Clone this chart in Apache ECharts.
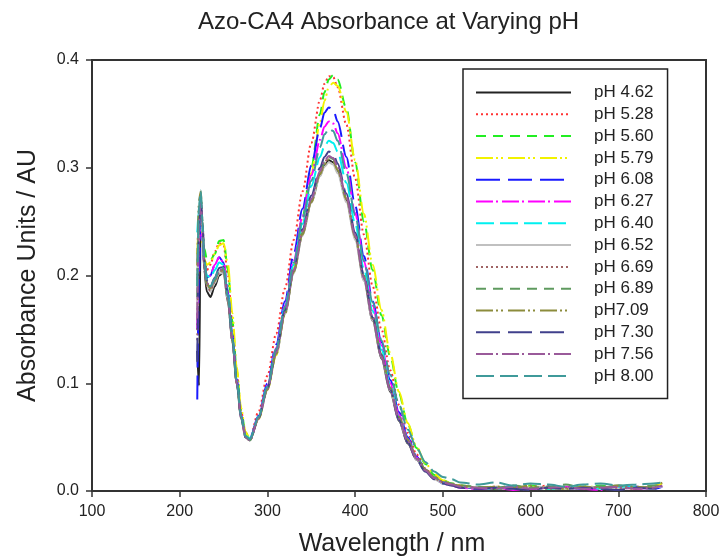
<!DOCTYPE html>
<html>
<head>
<meta charset="utf-8">
<script src="https://cdn.jsdelivr.net/npm/echarts@6/dist/echarts.min.js"></script>
<style>
  html, body { margin: 0; padding: 0; background: #fff; }
  #chart { width: 722px; height: 556px; }
</style>
</head>
<body>
<div id="chart"></div>
<script>
// wavelength grid (nm)
const wavelengths = [220,222,224,226,228,231,235,240,245,250,255,260,265,270,275,280,290,300,310,320,330,340,350,360,365,370,375,380,390,400,410,420,430,440,450,460,470,480,490,500,510,520,540,560,580,600,620,640,660,680,700,720,740,750];

const phLabels = ['pH 4.62','pH 5.28','pH 5.60','pH 5.79','pH 6.08','pH 6.27','pH 6.40','pH 6.52','pH 6.69','pH 6.89','pH7.09','pH 7.30','pH 7.56','pH 8.00'];

// absorbance, one list per pH
const abs_462 = [0.13,0.098,0.26,0.24,0.205,0.185,0.18,0.19,0.2,0.203,0.175,0.14,0.1,0.07,0.052,
  0.047,0.068,0.095,0.128,0.165,0.203,0.238,0.268,0.293,0.302,0.307,0.305,0.297,0.27,0.235,0.196,0.158,0.123,0.092,0.065,0.044,0.029,0.019,0.012,0.008,
  0.006,0.004,0.003,0.002,0.004,0.002,0.003,0.002,0.004,0.003,0.002,0.004,0.003,0.005];
const abs_528 = [0.2,0.25,0.26,0.235,0.215,0.205,0.21,0.222,0.23,0.228,0.2,0.155,0.11,0.074,0.054,
  0.049,0.074,0.107,0.146,0.188,0.233,0.278,0.323,0.363,0.378,0.385,0.384,0.375,0.34,0.29,0.238,0.19,0.15,0.112,0.08,0.054,0.034,0.021,0.013,0.009,
  0.006,0.005,0.002,0.004,0.002,0.003,0.005,0.002,0.003,0.002,0.004,0.003,0.004,0.004];
const abs_560 = [0.19,0.24,0.255,0.24,0.225,0.215,0.214,0.22,0.232,0.233,0.205,0.158,0.112,0.075,0.054,
  0.048,0.068,0.095,0.128,0.168,0.21,0.255,0.3,0.35,0.37,0.382,0.386,0.382,0.355,0.305,0.25,0.205,0.163,0.125,0.09,0.062,0.04,0.025,0.015,0.01,
  0.007,0.005,0.004,0.002,0.003,0.005,0.002,0.004,0.003,0.005,0.002,0.003,0.004,0.006];
const abs_579 = [0.22,0.25,0.245,0.23,0.215,0.21,0.212,0.22,0.228,0.23,0.21,0.165,0.115,0.077,0.055,
  0.048,0.067,0.094,0.126,0.165,0.207,0.25,0.295,0.342,0.362,0.375,0.379,0.376,0.352,0.307,0.257,0.21,0.168,0.128,0.092,0.063,0.041,0.026,0.016,0.01,
  0.007,0.005,0.003,0.004,0.002,0.004,0.003,0.002,0.005,0.003,0.004,0.002,0.005,0.007];
const abs_608 = [0.085,0.2,0.25,0.235,0.21,0.198,0.2,0.21,0.217,0.212,0.185,0.145,0.104,0.07,0.052,
  0.049,0.07,0.1,0.136,0.176,0.22,0.262,0.302,0.337,0.351,0.356,0.354,0.343,0.31,0.265,0.218,0.176,0.138,0.103,0.073,0.05,0.032,0.02,0.012,0.008,
  0.006,0.004,0.002,0.003,0.004,0.002,0.004,0.003,0.002,0.004,0.003,0.004,0.002,0.004];
const abs_627 = [0.15,0.23,0.255,0.235,0.21,0.199,0.2,0.21,0.217,0.212,0.183,0.143,0.102,0.069,0.051,
  0.048,0.069,0.098,0.133,0.172,0.214,0.255,0.293,0.326,0.338,0.343,0.341,0.332,0.3,0.258,0.213,0.172,0.135,0.1,0.071,0.048,0.031,0.019,0.012,0.007,
  0.005,0.003,0.002,0.003,0.001,0.002,0.003,0.004,0.002,0.001,0.003,0.002,0.003,0.005];
const abs_640 = [0.24,0.26,0.255,0.235,0.212,0.2,0.198,0.205,0.212,0.21,0.183,0.143,0.102,0.069,0.051,
  0.049,0.069,0.097,0.131,0.17,0.21,0.248,0.283,0.31,0.32,0.325,0.323,0.315,0.286,0.248,0.206,0.167,0.131,0.098,0.069,0.047,0.03,0.019,0.012,0.007,
  0.006,0.004,0.003,0.002,0.004,0.003,0.002,0.003,0.004,0.002,0.003,0.004,0.003,0.005];
const abs_652 = [0.17,0.25,0.265,0.24,0.21,0.19,0.185,0.193,0.202,0.202,0.175,0.138,0.099,0.067,0.05,
  0.047,0.067,0.094,0.127,0.164,0.202,0.237,0.267,0.292,0.301,0.305,0.303,0.295,0.268,0.233,0.195,0.158,0.124,0.093,0.066,0.045,0.029,0.018,0.011,0.007,
  0.005,0.004,0.003,0.004,0.002,0.003,0.004,0.002,0.003,0.004,0.002,0.003,0.004,0.004];
const abs_669 = [0.14,0.24,0.27,0.245,0.21,0.19,0.186,0.194,0.203,0.205,0.177,0.139,0.1,0.068,0.05,
  0.047,0.068,0.096,0.129,0.166,0.205,0.24,0.27,0.295,0.305,0.31,0.308,0.3,0.272,0.237,0.198,0.16,0.125,0.094,0.067,0.046,0.03,0.019,0.012,0.008,
  0.006,0.004,0.003,0.002,0.003,0.004,0.002,0.003,0.002,0.004,0.003,0.002,0.004,0.005];
const abs_689 = [0.18,0.26,0.275,0.245,0.212,0.192,0.188,0.196,0.205,0.206,0.178,0.14,0.1,0.068,0.05,
  0.047,0.068,0.095,0.129,0.166,0.204,0.24,0.27,0.296,0.305,0.31,0.308,0.3,0.273,0.238,0.2,0.162,0.127,0.096,0.069,0.048,0.031,0.02,0.013,0.009,
  0.007,0.005,0.004,0.003,0.005,0.003,0.004,0.006,0.003,0.004,0.005,0.003,0.005,0.006];
const abs_709 = [0.21,0.27,0.278,0.25,0.215,0.193,0.188,0.195,0.204,0.205,0.177,0.139,0.1,0.068,0.05,
  0.047,0.067,0.094,0.127,0.164,0.203,0.238,0.268,0.294,0.303,0.308,0.306,0.298,0.271,0.236,0.198,0.16,0.126,0.095,0.068,0.047,0.031,0.02,0.013,0.009,
  0.006,0.005,0.003,0.004,0.003,0.005,0.003,0.002,0.004,0.003,0.005,0.004,0.003,0.008];
const abs_730 = [0.12,0.24,0.272,0.25,0.215,0.195,0.19,0.198,0.207,0.208,0.18,0.141,0.101,0.068,0.05,
  0.048,0.068,0.096,0.13,0.168,0.207,0.243,0.274,0.3,0.31,0.315,0.313,0.304,0.276,0.24,0.2,0.161,0.126,0.094,0.066,0.045,0.029,0.018,0.011,0.007,
  0.005,0.003,0.002,0.003,0.002,0.001,0.003,0.002,0.003,0.002,0.001,0.003,0.002,0.004];
const abs_756 = [0.16,0.25,0.27,0.245,0.212,0.193,0.189,0.197,0.205,0.206,0.178,0.14,0.1,0.068,0.05,
  0.047,0.068,0.095,0.129,0.166,0.205,0.241,0.271,0.297,0.306,0.311,0.309,0.301,0.273,0.237,0.198,0.16,0.125,0.094,0.067,0.046,0.03,0.019,0.012,0.008,
  0.006,0.004,0.003,0.002,0.004,0.002,0.003,0.004,0.002,0.003,0.004,0.002,0.003,0.005];
const abs_800 = [0.19,0.265,0.279,0.25,0.215,0.195,0.19,0.197,0.206,0.207,0.18,0.142,0.102,0.069,0.051,
  0.048,0.069,0.097,0.132,0.171,0.212,0.252,0.288,0.319,0.331,0.336,0.334,0.325,0.295,0.256,0.214,0.175,0.14,0.108,0.08,0.057,0.04,0.027,0.018,0.013,
  0.011,0.008,0.006,0.008,0.005,0.007,0.006,0.004,0.006,0.007,0.005,0.006,0.007,0.008];

const spectra = [abs_462, abs_528, abs_560, abs_579, abs_608, abs_627, abs_640, abs_652, abs_669, abs_689, abs_709, abs_730, abs_756, abs_800];

// line looks (colour + dash) per pH
const lineColors = ['#222222','#ff3333','#22ee22','#f2f200','#1a1aff','#ff00ff','#00f0f0','#c0c0c0','#a06464','#5f9a5f','#8c8c3c','#40408c','#9a5a9a','#3f9a9a'];
const lineDashes = ['solid',[2,3],[10,7],[17,3,2,3,2,5],[24,8],[17,3,2,4],[18,6],'solid',[2,3],[10,7],[17,3,2,3,2,5],[24,8],[17,3,2,4],[18,6]];

const chart = echarts.init(document.getElementById('chart'), null, { renderer: 'canvas' });

const FONT = '"Liberation Sans", Arial, sans-serif';

let series = [];
for (let i = 0; i < spectra.length; i++) {
  series.push({
    name: phLabels[i],
    type: 'line',
    symbol: 'none',
    smooth: 0.3,
    smoothMonotone: 'x',
    data: wavelengths.map((w, j) => [w, spectra[i][j]]),
    lineStyle: { color: lineColors[i], width: 2, type: lineDashes[i] },
    itemStyle: { color: lineColors[i] },
    animation: false
  });
}

chart.setOption({
  backgroundColor: '#fff',
  animation: false,
  title: {
    text: 'Azo-CA4 Absorbance at Varying pH',
    left: 193,
    top: 5,
    textStyle: { fontFamily: FONT, fontSize: 24, fontWeight: 'normal', color: '#222' }
  },
  grid: {
    left: 92, right: 16, top: 60, bottom: 65,
    outerBoundsMode: 'none',
    show: true, borderColor: '#333', borderWidth: 2
  },
  legend: {
    orient: 'vertical',
    left: 463, top: 69,
    padding: [15, 14, 14, 12],
    itemWidth: 95, itemHeight: 14, itemGap: 4.8,
    borderColor: '#222', borderWidth: 1.5,
    // hide the marker dot, keep the dashed line sample
    itemStyle: { opacity: 0 },
    textStyle: { fontFamily: FONT, fontSize: 17, color: '#222', lineHeight: 14, padding: [0, 0, 0, 18] },
    data: phLabels
  },
  xAxis: {
    type: 'value',
    min: 100, max: 800, interval: 100,
    name: 'Wavelength / nm',
    nameLocation: 'middle',
    nameGap: 41,
    nameTextStyle: { fontFamily: FONT, fontSize: 25, color: '#222', padding: [0, 14, 0, 0] },
    axisLine: { show: true, lineStyle: { color: '#333', width: 2 } },
    axisTick: { show: true, length: 6, lineStyle: { color: '#333', width: 1.5 } },
    axisLabel: { fontFamily: FONT, fontSize: 16, color: '#222', margin: 13 },
    splitLine: { show: false }
  },
  yAxis: {
    type: 'value',
    min: 0, max: 0.4, interval: 0.1,
    name: 'Absorbance Units / AU',
    nameLocation: 'middle',
    nameGap: 51,
    nameTextStyle: { fontFamily: FONT, fontSize: 25, color: '#222' },
    axisLine: { show: true, lineStyle: { color: '#333', width: 2 } },
    axisTick: { show: true, length: 6, lineStyle: { color: '#333', width: 1.5 } },
    axisLabel: { fontFamily: FONT, fontSize: 16, color: '#222', margin: 13, formatter: v => v.toFixed(1) },
    splitLine: { show: false }
  },
  series: series
});
</script>
</body>
</html>
